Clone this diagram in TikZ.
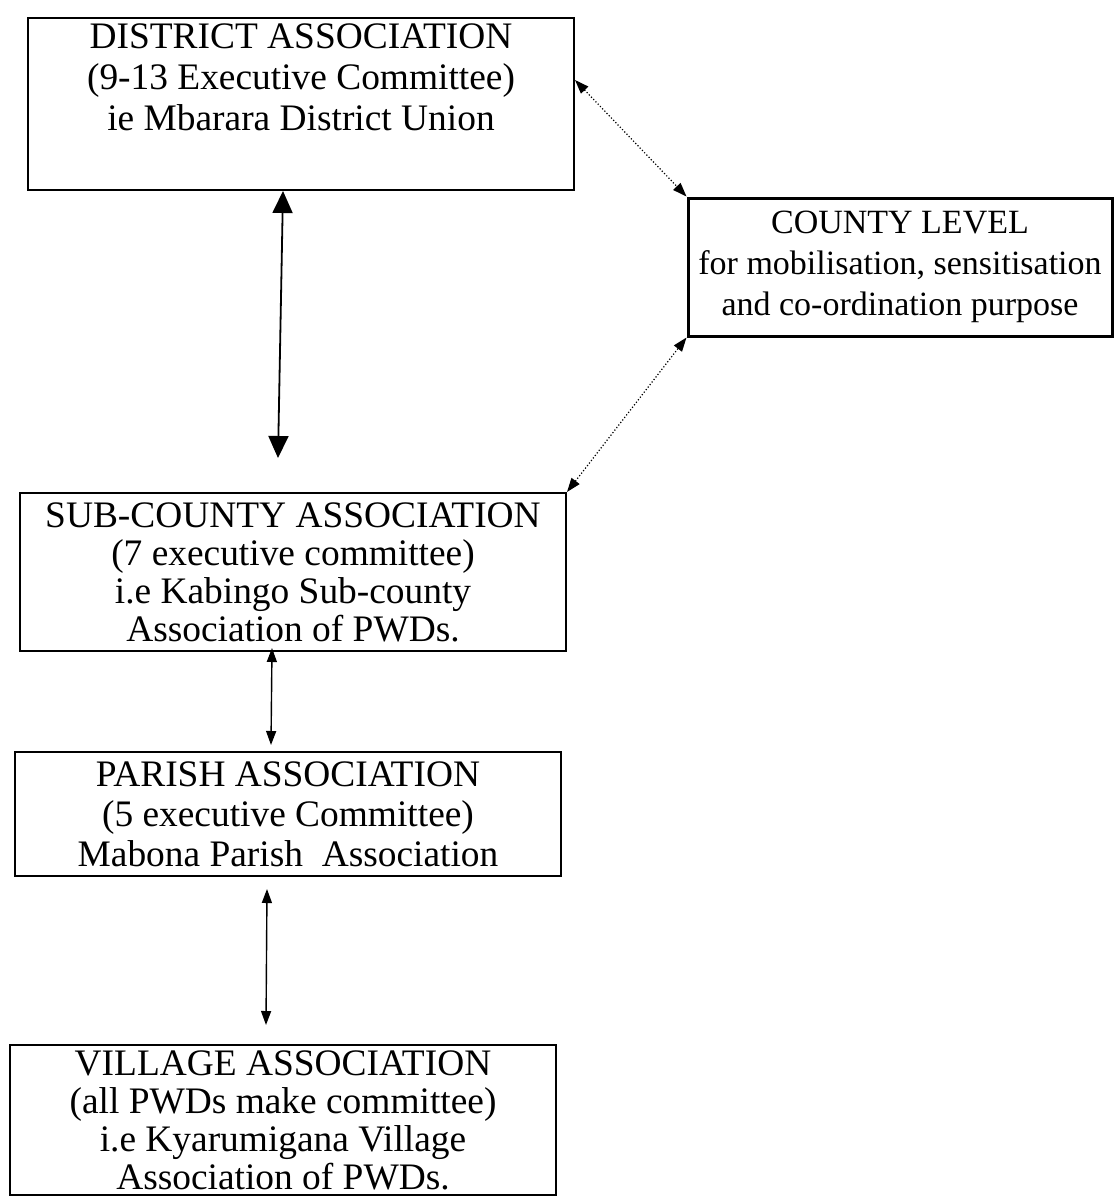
\documentclass[tikz,border=0pt]{standalone}
\usepackage{fontspec}
\setmainfont{Liberation Serif}
\usetikzlibrary{arrows.meta, positioning}

\begin{document}
\begin{tikzpicture}[
    x=0.5pt, y=-0.5pt,
    every node/.style={font=\fontsize{18.7}{20}\selectfont},
    level/.style={draw, line width=1pt, align=center, inner sep=0pt,
                  minimum width=273pt},
    link/.style ={{Triangle[width=10pt,length=11pt]}-{Triangle[width=10pt,length=11pt]}, line width=0.9pt},
    small/.style={{Triangle[width=5pt,length=7pt]}-{Triangle[width=5pt,length=7pt]}, line width=0.7pt},
    side/.style ={{Triangle[width=5pt,length=7pt]}-{Triangle[width=5pt,length=7pt]}, line width=0.6pt, densely dotted},
]
\useasboundingbox[fill=white] (0,0) rectangle (1114,1196);

\node[level, minimum height=86pt, font=\fontsize{18.7}{20.5}\selectfont] (dist) at (301,104)
     {DISTRICT ASSOCIATION\\(9-13 Executive Committee)\\ie Mbarara District Union\\\strut};
\node[level, line width=1.5pt, minimum width=212pt, minimum height=69pt,
      font=\fontsize{17}{20.5}\selectfont] (cnty) at (900,267)
     {COUNTY LEVEL\\for mobilisation, sensitisation\\and co-ordination purpose};
\node[level, minimum height=79pt, font=\fontsize{18.7}{19}\selectfont] (subc) at (293,572)
     {SUB-COUNTY ASSOCIATION\\(7 executive committee)\\i.e Kabingo Sub-county\\Association of PWDs.};
\node[level, minimum height=62pt] (par) at (288,814)
     {PARISH ASSOCIATION\\(5 executive Committee)\\Mabona Parish~~Association};
\node[level, minimum height=75pt, font=\fontsize{18.7}{19}\selectfont] (vil) at (283,1120)
     {VILLAGE ASSOCIATION\\(all PWDs make committee)\\i.e Kyarumigana Village\\Association of PWDs.};

% free ends of the vertical links
\coordinate (dsTop) at (dist.south -| 283,0);
\coordinate (dsBot) at (278,458);
\coordinate (spTop) at (272,648);
\coordinate (spBot) at (271,745);
\coordinate (pvTop) at (267,889);
\coordinate (pvBot) at (266,1025);
\coordinate (dEast) at (dist.north east |- 0,80);

\draw[link]  (dsTop) -- (dsBot);
\draw[small] (spTop) -- (spBot);
\draw[small] (pvTop) -- (pvBot);
% county level links with district and sub-county
\draw[side] (dEast) -- (cnty.north west);
\draw[side] (subc.north east) -- (cnty.south west);
\end{tikzpicture}
\end{document}
